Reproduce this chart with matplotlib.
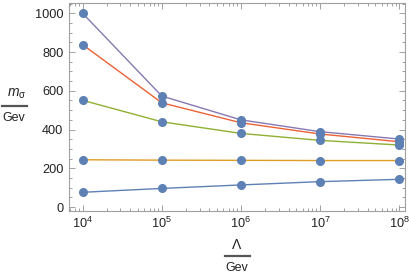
import matplotlib
matplotlib.use("Agg")
import matplotlib.pyplot as plt
from matplotlib.lines import Line2D
from matplotlib.ticker import LogLocator, MultipleLocator, FixedLocator
import numpy as np

lam = [1e4, 1e5, 1e6, 1e7, 1e8]
s_blue = [76, 96, 114, 131, 143]
s_orange = [244, 242, 241, 240, 240]
s_green = [551, 440, 380, 344, 320]
s_red = [838, 538, 435, 377, 337]
s_purple = [1000, 573, 450, 389, 351]
xtick_labels = [r"$\mathregular{10^{4}}$", r"$\mathregular{10^{5}}$", r"$\mathregular{10^{6}}$",
                r"$\mathregular{10^{7}}$", r"$\mathregular{10^{8}}$"]
yticks = [0, 200, 400, 600, 800, 1000]

series = [
    (s_blue, "#5E81B5"),
    (s_orange, "#E19C24"),
    (s_green, "#8FB032"),
    (s_red, "#EB6235"),
    (s_purple, "#8778B3"),
]

plt.rcParams['font.family'] = ['Liberation Sans', 'DejaVu Sans']
plt.rcParams['mathtext.fontset'] = 'custom'
plt.rcParams['mathtext.rm'] = 'Liberation Sans'
plt.rcParams['mathtext.it'] = 'Liberation Sans:italic'
plt.rcParams['mathtext.default'] = 'regular'

fig = plt.figure(figsize=(4.09, 2.75), dpi=100)
W, H = 409, 275
ax = fig.add_axes([69 / W, 1 - 210.5 / H, (404.5 - 69) / W, (210.5 - 2.7) / H])

for vals, col in series:
    ax.plot(lam, vals, color=col, lw=1.0, zorder=2)
for vals, col in series:
    ax.plot(lam, vals, ls="none", marker="o", ms=5.5, color="#5E81B5", zorder=3)

ax.set_xscale("log")
ax.set_xlim(10 ** 3.827, 10 ** 8.067)
ax.set_ylim(-18, 1055)

ax.xaxis.set_major_locator(FixedLocator(lam))
ax.set_xticks(lam)
ax.set_xticklabels(xtick_labels)
ax.xaxis.set_minor_locator(LogLocator(base=10, subs=np.arange(2, 10)))
ax.set_yticks(yticks)
ax.set_yticklabels([str(v) for v in yticks])
ax.yaxis.set_minor_locator(MultipleLocator(50))

frame_col = "#A0A0A0"
for sp in ax.spines.values():
    sp.set_color(frame_col)
    sp.set_linewidth(0.8)
ax.tick_params(which="both", direction="in", top=True, right=True, color=frame_col,
               labelcolor="#222222", labelsize=9.2, width=0.7)
ax.tick_params(which="major", length=4, pad=4)
ax.tick_params(which="minor", length=2)
ax.tick_params(axis="x", which="minor", labelbottom=False)

# y label as fraction
fig.text(17 / W, 1 - 94 / H, r"$\mathit{m}_{\sigma}$", ha="center", va="center", fontsize=10, color="#222222")
fig.add_artist(Line2D([2 / W, 27 / W], [1 - 106 / H, 1 - 106 / H], color="#555555", lw=1.6))
fig.text(14 / W, 1 - 118 / H, "Gev", ha="center", va="center", fontsize=9, color="#222222")

# x label as fraction
fig.text(237 / W, 1 - 245 / H, "Λ", ha="center", va="center", fontsize=10, color="#222222")
fig.add_artist(Line2D([225 / W, 250 / W], [1 - 256 / H, 1 - 256 / H], color="#555555", lw=1.6))
fig.text(237 / W, 1 - 268 / H, "Gev", ha="center", va="center", fontsize=9, color="#222222")

fig.savefig("out.png", dpi=100)
